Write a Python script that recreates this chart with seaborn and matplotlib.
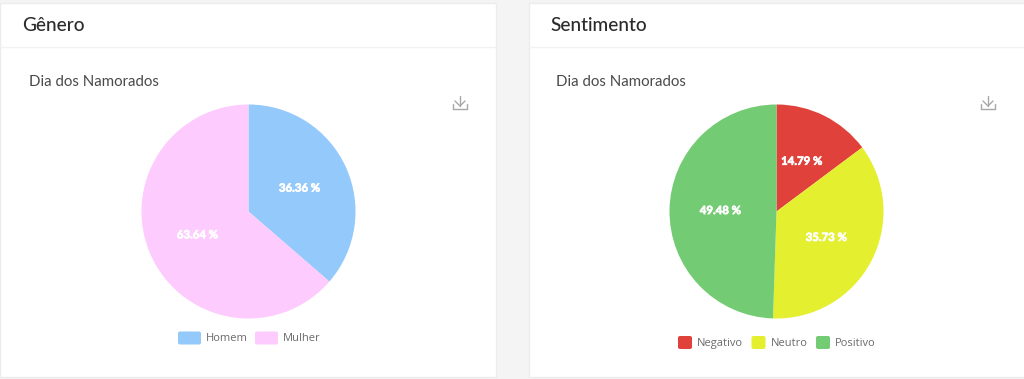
import matplotlib
matplotlib.use('Agg')
import matplotlib.pyplot as plt
import matplotlib.patheffects as pe
from matplotlib.patches import FancyBboxPatch, Rectangle
import seaborn as sns

genero_labels = ['Homem', 'Mulher']
genero_values = [36.36, 63.64]
genero_colors = ['#94c9fb', '#fdcbfd']

sent_labels = ['Negativo', 'Neutro', 'Positivo']
sent_values = [14.79, 35.73, 49.48]
sent_colors = ['#e0413a', '#e4ef30', '#73cb73']

W, H = 1024, 379

sns.set_theme(style='white')
plt.rcParams['font.family'] = ['Lato', 'DejaVu Sans']

fig = plt.figure(figsize=(W / 100, H / 100), dpi=100, facecolor='#f4f4f4')

# background layer in pixel coords (y going down)
bg = fig.add_axes([0, 0, 1, 1])
bg.set_xlim(0, W)
bg.set_ylim(H, 0)
bg.axis('off')


def card(x0, x1, title, subtitle, sub_x, title_x):
    bg.add_patch(Rectangle((x0, 3), x1 - x0, 374, fc='white', ec='#ececec', lw=1))
    bg.plot([x0, x1], [47, 47], color='#f2f2f2', lw=1)
    bg.text(title_x, 25.5, title, fontsize=13.7, color='#2b2b2b', va='center', ha='left', fontweight='medium')
    bg.text(sub_x, 81.5, subtitle, fontsize=10.8, color='#4a4a4a', va='center', ha='left')


def download_icon(cx, cy):
    c = '#a8a8a8'
    bg.plot([cx, cx], [cy - 7, cy + 3], color=c, lw=1)
    bg.plot([cx - 5, cx, cx + 5], [cy - 2, cy + 3, cy - 2], color=c, lw=1)
    bg.plot([cx - 7, cx - 7, cx + 7, cx + 7], [cy + 1, cy + 6, cy + 6, cy + 1], color=c, lw=1)


def draw_pie(cx, cy, r, values, colors):
    ax = fig.add_axes([(cx - r) / W, 1 - (cy + r) / H, 2 * r / W, 2 * r / H])
    _, _, autotexts = ax.pie(values, colors=colors, startangle=90, counterclock=False,
                             autopct='%.2f %%', pctdistance=0.525, radius=1,
                             wedgeprops={'edgecolor': 'none', 'linewidth': 0})
    for t in autotexts:
        t.set_color('white')
        t.set_fontsize(8.2)
        t.set_fontweight('bold')
        # labels in the original look a bit heavier, like a soft outline
        t.set_path_effects([pe.withStroke(linewidth=0.5, foreground='white')])
    ax.set_xlim(-1, 1)
    ax.set_ylim(-1, 1)
    ax.patch.set_alpha(0)


def legend_item(x, y, w, h, color, label):
    bg.add_patch(FancyBboxPatch((x + 2, y + 2), w - 4, h - 4, boxstyle='round,pad=2', fc=color, ec='none'))
    bg.text(x + w + 5, y + h / 2 + 0.7, label, fontsize=8, color='#6b6b6b', va='center', ha='left',
            family=['Open Sans', 'DejaVu Sans'])


card(0, 496, 'Gênero', 'Dia dos Namorados', 29, 22.5)
card(528.5, 1030, 'Sentimento', 'Dia dos Namorados', 556, 550.5)
download_icon(460, 103)
download_icon(988, 103)

draw_pie(248.5, 211.5, 107, genero_values, genero_colors)
draw_pie(776.5, 211.5, 107, sent_values, sent_colors)

for x, w, c, l in zip([178, 255], [23, 23], genero_colors, genero_labels):
    legend_item(x, 331.5, w, 13, c, l)
for x, c, l in zip([678, 751.5, 816], sent_colors, sent_labels):
    legend_item(x, 336, 14, 13, c, l)

fig.savefig('out.png', dpi=100, facecolor=fig.get_facecolor())
